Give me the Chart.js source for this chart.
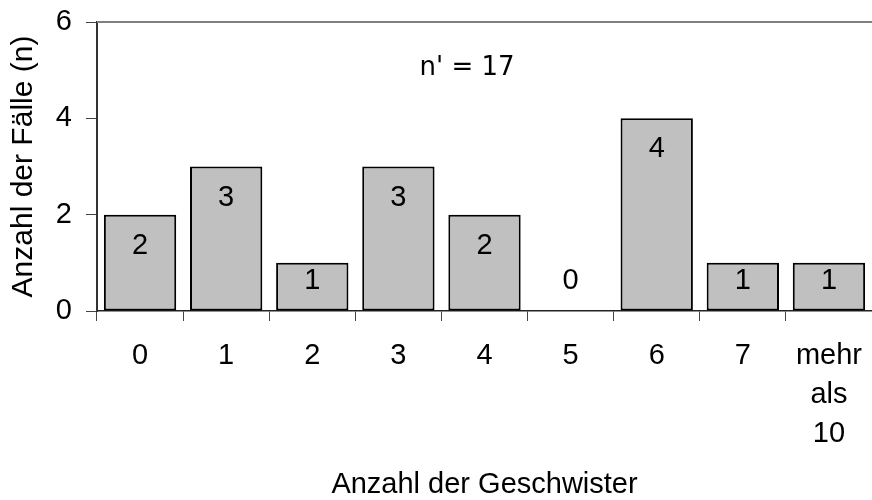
<!DOCTYPE html>
<html>
<head>
<meta charset="utf-8">
<script src="https://cdn.jsdelivr.net/npm/chart.js@4/dist/chart.umd.min.js"></script>
<style>
  html, body { margin: 0; padding: 0; background: #ffffff; }
  #wrap { width: 872px; height: 500px; position: relative; }
</style>
</head>
<body>
<div id="wrap"><canvas id="c" width="872" height="500"></canvas></div>
<script>
// Anzahl der Geschwister vs. Anzahl der Fälle
const categories = ['0', '1', '2', '3', '4', '5', '6', '7', ['mehr', 'als', '10']];
const counts = [2, 3, 1, 3, 2, 0, 4, 1, 1];
const yTicks = [0, 2, 4, 6];
const sampleNote = "n' = 17";

const FONT = "Arial, 'Liberation Sans', Helvetica, sans-serif";
const SIZE = 29;

// Values written inside the bars, plus the top frame line and the n' note
const annotate = {
  id: 'annotate',
  afterDatasetsDraw(chart) {
    const { ctx, chartArea, scales } = chart;
    const y = scales.y;
    const zero = y.getPixelForValue(0);
    const meta = chart.getDatasetMeta(0);

    ctx.save();
    // top frame line
    ctx.strokeStyle = '#808080';
    ctx.lineWidth = 2;
    ctx.beginPath();
    ctx.moveTo(chartArea.left, chartArea.top);
    ctx.lineTo(chartArea.right, chartArea.top);
    ctx.stroke();

    ctx.fillStyle = '#000000';
    ctx.font = SIZE + 'px ' + FONT;
    ctx.textAlign = 'center';
    ctx.textBaseline = 'middle';
    meta.data.forEach((bar, i) => {
      const v = counts[i];
      const top = y.getPixelForValue(v);
      const ly = Math.min(top + 31, zero - 30);
      ctx.fillText(String(v), bar.x, ly);
    });

    ctx.font = "26px 'DejaVu Sans', Verdana, sans-serif";
    ctx.fillText(sampleNote, 467, 68);
    ctx.restore();
  }
};

new Chart(document.getElementById('c'), {
  type: 'bar',
  data: {
    labels: categories,
    datasets: [{
      data: counts,
      backgroundColor: '#c0c0c0',
      borderColor: '#000000',
      borderWidth: 2,
      borderSkipped: false,
      barPercentage: 0.84,
      categoryPercentage: 1.0
    }]
  },
  options: {
    responsive: false,
    animation: false,
    layout: { padding: { top: 22, right: 0, left: 0, bottom: 0 } },
    plugins: {
      legend: { display: false },
      tooltip: { enabled: false }
    },
    scales: {
      x: {
        offset: true,
        grid: {
          offset: true,
          drawOnChartArea: false,
          drawTicks: true,
          tickLength: 10,
          color: '#444444',
          lineWidth: 1
        },
        border: { display: true, color: '#222222', width: 1.5 },
        ticks: {
          color: '#000000',
          font: { family: FONT, size: SIZE, lineHeight: 39 / SIZE },
          padding: 15.5,
          maxRotation: 0,
          autoSkip: false
        },
        title: {
          display: true,
          text: 'Anzahl der Geschwister',
          color: '#000000',
          font: { family: FONT, size: SIZE },
          padding: -2
        },
        afterFit(scale) {
          scale.height = 189;
          scale.paddingLeft = 0;
          scale.paddingRight = 0;
        }
      },
      y: {
        min: 0,
        max: 6,
        afterBuildTicks(scale) { scale.ticks = yTicks.map(v => ({ value: v })); },
        grid: {
          drawOnChartArea: false,
          drawTicks: true,
          tickLength: 11,
          color: '#444444',
          lineWidth: 1
        },
        border: { display: true, color: '#333333', width: 2 },
        ticks: {
          color: '#000000',
          font: { family: FONT, size: SIZE },
          padding: 14
        },
        title: {
          display: true,
          text: 'Anzahl der Fälle (n)',
          color: '#000000',
          font: { family: FONT, size: 30 },
          padding: 6
        },
        afterFit(scale) {
          scale.width = 97;
          scale.paddingTop = 0;
          scale.paddingBottom = 0;
        }
      }
    }
  },
  plugins: [annotate]
});
</script>
</body>
</html>
